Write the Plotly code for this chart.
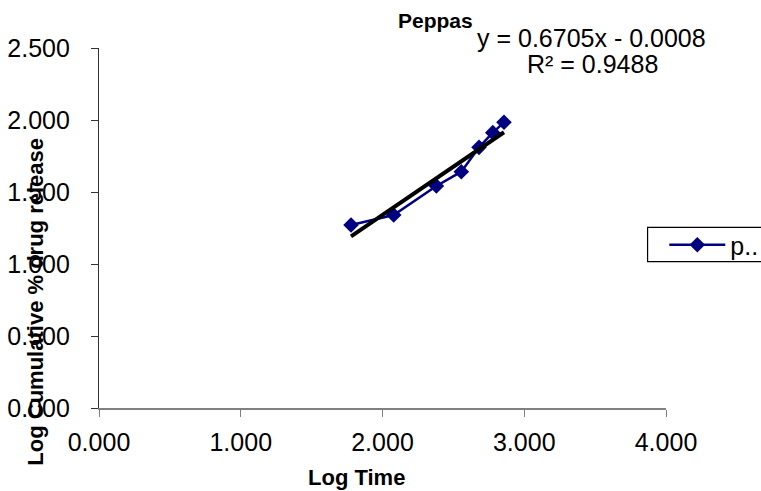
import plotly.graph_objects as go

# Data
log_time = [1.778, 2.079, 2.380, 2.556, 2.681, 2.778, 2.857]
log_release = [1.271, 1.340, 1.542, 1.641, 1.810, 1.912, 1.984]
series_name = "p.."
slope, intercept, r2 = 0.6705, -0.0008, 0.9488

W, H = 761, 491
L, R, T, B = 99.3, 665.7, 48, 408

def px(x):
    return (x - L) / (R - L)

def py(y):
    return (B - y) / (B - T)

trend_x = [min(log_time), max(log_time)]
trend_y = [slope * v + intercept for v in trend_x]

fig = go.Figure()
fig.add_trace(go.Scatter(
    x=log_time, y=log_release, mode="lines+markers", name=series_name,
    line=dict(color="#000080", width=2.5),
    marker=dict(symbol="diamond", size=12, color="#000080"),
))
fig.add_trace(go.Scatter(
    x=trend_x, y=trend_y, mode="lines", showlegend=False,
    line=dict(color="black", width=4),
))

font = "Liberation Sans, Arial, sans-serif"
fig.update_layout(
    width=W, height=H,
    margin=dict(l=L, r=W - R, t=T, b=H - B, autoexpand=False),
    paper_bgcolor="white", plot_bgcolor="white",
    font=dict(family=font, color="black"),
    showlegend=True,
    legend=dict(x=px(664), y=py(245), xanchor="left", yanchor="middle",
                font=dict(size=25, family=font), bgcolor="rgba(0,0,0,0)",
                borderwidth=0, itemwidth=56),
    xaxis=dict(range=[0, 4], dtick=1, tickformat=".3f", showgrid=False, zeroline=False,
               showline=True, linecolor="#808080", linewidth=1.5,
               ticks="outside", ticklen=7, tickcolor="#808080",
               tickfont=dict(size=25, family=font), ticklabelstandoff=4),
    yaxis=dict(range=[0, 2.5], dtick=0.5, tickformat=".3f", showgrid=False, zeroline=False,
               showline=True, linecolor="#333333", linewidth=1.2,
               ticks="outside", ticklen=7, tickcolor="#333333",
               tickfont=dict(size=25, family=font), ticklabelstandoff=16),
    shapes=[dict(type="rect", xref="paper", yref="paper",
                 x0=px(647.3), x1=px(800), y0=py(261.7), y1=py(227.3),
                 line=dict(color="black", width=1.2), fillcolor="rgba(0,0,0,0)")],
    annotations=[
        dict(text="<b>Peppas</b>", xref="paper", yref="paper", x=px(435), y=py(20),
             showarrow=False, font=dict(size=21, family=font), xanchor="center", yanchor="middle"),
        dict(text=f"y = {slope:.4f}x - {abs(intercept):.4f}", xref="paper", yref="paper",
             x=px(591), y=py(38), showarrow=False, font=dict(size=25, family=font),
             xanchor="center", yanchor="middle"),
        dict(text=f"R² = {r2:.4f}", xref="paper", yref="paper",
             x=px(592), y=py(64), showarrow=False, font=dict(size=25, family=font),
             xanchor="center", yanchor="middle"),
        dict(text="<b>Log Time</b>", xref="paper", yref="paper", x=px(357), y=py(477),
             showarrow=False, font=dict(size=22, family=font), xanchor="center", yanchor="middle"),
        dict(text="<b>Log Cumulative % drug release</b>", xref="paper", yref="paper",
             x=px(35), y=py(302), textangle=-90, showarrow=False,
             font=dict(size=22, family=font), xanchor="center", yanchor="middle"),
    ],
)

fig.write_html("out.html")
